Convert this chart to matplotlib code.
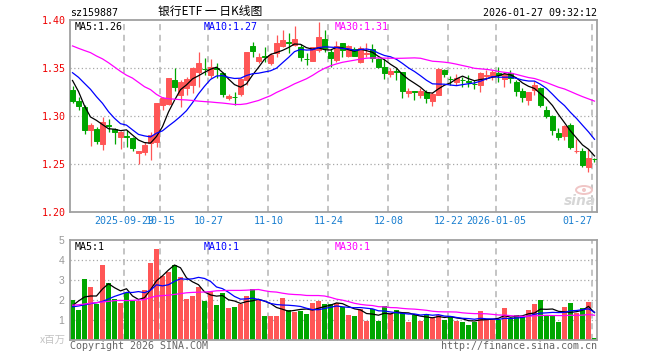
import matplotlib
matplotlib.use('Agg')
import matplotlib.pyplot as plt
from matplotlib.patches import Ellipse
import numpy as np

# ---------------- data ----------------
tick_idx = [9, 15, 23, 33, 43, 53, 63, 71, 87]
tick_labels = ['2025-09-29', '10-15', '10-27', '11-10', '11-24', '12-08', '12-22', '2026-01-05', '01-27']

opens = [1.3271, 1.3156, 1.3097, 1.2854, 1.2865, 1.2705, 1.2903, 1.2865, 1.2785, 1.2792,
         1.2767, 1.2615, 1.2628, 1.2716, 1.2733, 1.3115, 1.3125, 1.3375, 1.3220, 1.3288,
         1.3323, 1.3462, 1.3493, 1.3427, 1.3500, 1.3451, 1.3184, 1.3198, 1.3229, 1.3375,
         1.3729, 1.3576, 1.3622, 1.3549, 1.3660, 1.3729, 1.3767, 1.3740, 1.3722, 1.3594,
         1.3576, 1.3688, 1.3799, 1.3670, 1.3583, 1.3757, 1.3625, 1.3694, 1.3566, 1.3650,
         1.3694, 1.3590, 1.3514, 1.3438, 1.3465, 1.3462, 1.3243, 1.3257, 1.3219, 1.3253,
         1.3160, 1.3219, 1.3479, 1.3389, 1.3358, 1.3378, 1.3361, 1.3333, 1.3323, 1.3420,
         1.3410, 1.3451, 1.3382, 1.3451, 1.3358, 1.3264, 1.3167, 1.3271, 1.3288, 1.3063,
         1.3000, 1.2819, 1.2792, 1.2906, 1.2632, 1.2639, 1.2472, 1.2552]
highs = [1.3316, 1.3194, 1.3115, 1.2924, 1.2889, 1.2993, 1.2972, 1.2878, 1.2844, 1.2854,
         1.2785, 1.2632, 1.2726, 1.2836, 1.3139, 1.3201, 1.3399, 1.3500, 1.3380, 1.3403,
         1.3514, 1.3670, 1.3601, 1.3590, 1.3556, 1.3462, 1.3229, 1.3253, 1.3392, 1.3670,
         1.3774, 1.3660, 1.3722, 1.3653, 1.3844, 1.3896, 1.3868, 1.3938, 1.3750, 1.3653,
         1.3722, 1.3983, 1.3896, 1.3694, 1.3785, 1.3764, 1.3740, 1.3722, 1.3729, 1.3757,
         1.3750, 1.3601, 1.3590, 1.3497, 1.3497, 1.3462, 1.3288, 1.3264, 1.3288, 1.3271,
         1.3253, 1.3497, 1.3486, 1.3417, 1.3438, 1.3410, 1.3427, 1.3375, 1.3462, 1.3479,
         1.3479, 1.3514, 1.3451, 1.3479, 1.3375, 1.3288, 1.3253, 1.3368, 1.3306, 1.3104,
         1.3010, 1.2872, 1.2906, 1.2931, 1.2757, 1.2663, 1.2653, 1.2559]
lows = [1.3132, 1.3063, 1.2813, 1.2691, 1.2705, 1.2646, 1.2830, 1.2705, 1.2656, 1.2681,
        1.2635, 1.2500, 1.2594, 1.2542, 1.2681, 1.3063, 1.3115, 1.3260, 1.3097, 1.3219,
        1.3236, 1.3306, 1.3427, 1.3400, 1.3392, 1.3194, 1.3167, 1.3115, 1.3208, 1.3323,
        1.3611, 1.3549, 1.3566, 1.3531, 1.3618, 1.3722, 1.3653, 1.3729, 1.3576, 1.3531,
        1.3576, 1.3670, 1.3670, 1.3514, 1.3566, 1.3618, 1.3611, 1.3625, 1.3549, 1.3611,
        1.3566, 1.3497, 1.3382, 1.3410, 1.3375, 1.3184, 1.3201, 1.3163, 1.3184, 1.3132,
        1.3104, 1.3219, 1.3403, 1.3323, 1.3323, 1.3306, 1.3306, 1.3278, 1.3253, 1.3375,
        1.3375, 1.3358, 1.3306, 1.3340, 1.3208, 1.3149, 1.3115, 1.3219, 1.3097, 1.2976,
        1.2802, 1.2750, 1.2750, 1.2653, 1.2618, 1.2465, 1.2420, 1.2524]
closes = [1.3160, 1.3108, 1.2854, 1.2906, 1.2743, 1.2941, 1.2892, 1.2830, 1.2830, 1.2785,
          1.2670, 1.2632, 1.2698, 1.2802, 1.3132, 1.3184, 1.3395, 1.3306, 1.3355, 1.3382,
          1.3497, 1.3556, 1.3486, 1.3514, 1.3490, 1.3229, 1.3208, 1.3194, 1.3382, 1.3663,
          1.3681, 1.3611, 1.3615, 1.3635, 1.3764, 1.3792, 1.3760, 1.3799, 1.3618, 1.3590,
          1.3715, 1.3826, 1.3705, 1.3601, 1.3729, 1.3688, 1.3729, 1.3625, 1.3705, 1.3656,
          1.3601, 1.3514, 1.3451, 1.3472, 1.3458, 1.3264, 1.3264, 1.3250, 1.3264, 1.3184,
          1.3229, 1.3490, 1.3438, 1.3385, 1.3392, 1.3372, 1.3358, 1.3330, 1.3451, 1.3427,
          1.3460, 1.3427, 1.3438, 1.3392, 1.3264, 1.3201, 1.3253, 1.3323, 1.3115, 1.3000,
          1.2854, 1.2785, 1.2899, 1.2681, 1.2639, 1.2490, 1.2559, 1.2549]
volumes = [2.0, 1.5, 3.05, 2.65, 1.8, 3.75, 2.83, 2.05, 1.85, 2.33,
           1.95, 1.95, 2.5, 3.85, 4.55, 3.2, 3.4, 3.75, 3.15, 2.05,
           2.2, 2.67, 1.95, 2.4, 1.75, 2.35, 1.6, 1.65, 1.8, 2.2,
           2.55, 1.98, 1.2, 1.2, 1.2, 2.1, 1.5, 1.4, 1.45, 1.3,
           1.85, 1.95, 1.8, 1.8, 1.87, 1.67, 1.25, 1.2, 1.53, 0.97,
           1.53, 0.97, 1.7, 1.33, 1.5, 1.33, 0.92, 1.25, 0.97, 1.28,
           1.13, 1.25, 1.0, 1.17, 0.97, 0.92, 0.77, 0.92, 1.45, 1.03,
           1.03, 1.0, 1.6, 1.03, 1.25, 1.17, 1.5, 1.8, 2.0, 1.2,
           1.25, 0.92, 1.67, 1.87, 1.37, 1.6, 1.9, 0.1]

# moving-average values at the start of the window
ma5_head = [1.3370, 1.3255, 1.3105, 1.2990]
ma10_head = [1.3451, 1.3403, 1.3340, 1.3278, 1.3201, 1.3132, 1.3045, 1.2976, 1.2920]
ma30_head = [1.3730, 1.3705, 1.3682, 1.3660, 1.3625, 1.3595, 1.3555, 1.3510, 1.3465, 1.3425,
             1.3395, 1.3350, 1.3305, 1.3275, 1.3225, 1.3190, 1.3180, 1.3175, 1.3170, 1.3167,
             1.3162, 1.3155, 1.3150, 1.3146, 1.3140, 1.3135, 1.3128, 1.3120, 1.3120]
vma5_head = [1.72, 1.95, 2.15, 2.20]
vma10_head = [1.66, 1.70, 1.76, 1.82, 1.86, 1.93, 2.05, 2.18, 2.28]
vma30_head = [1.74, 1.76, 1.80, 1.84, 1.87, 1.90, 1.93, 1.97, 1.98, 1.97,
              1.98, 2.00, 2.02, 2.12, 2.20, 2.22, 2.24, 2.28, 2.32, 2.36,
              2.38, 2.39, 2.40, 2.42, 2.46, 2.47, 2.48, 2.48, 2.48]

price_ticks = [1.20, 1.25, 1.30, 1.35, 1.40]
vol_ticks = [1, 2, 3, 4, 5]


def moving(vals, n, head):
    out = list(head)
    for i in range(n - 1, len(vals)):
        out.append(float(np.mean(vals[i - n + 1:i + 1])))
    return np.array(out)


# ---------------- figure ----------------
W, H = 660, 360
fig = plt.figure(figsize=(W / 100, H / 100), dpi=100)
fig.patch.set_facecolor('white')


def fx(px):
    return px / W


def fy(py):
    return 1 - py / H


MONO = 'DejaVu Sans Mono'
RED = '#ff5656'
GREEN = '#00a600'
GRID = '#a8a8a8'
FRAME = '#a0a0a0'

n = len(closes)
x = np.arange(n)
o = np.array(opens); c = np.array(closes); hi = np.array(highs); lo = np.array(lows)
up = c >= o
cols = [RED if u else GREEN for u in up]

xlim = (-0.4167, 87.4167)
grid_x = [t - 0.35 for t in tick_idx]

ax = fig.add_axes([fx(70), fy(212), 527 / W, 192 / H])
axv = fig.add_axes([fx(70), fy(340), 527 / W, 100 / H])

# ---- price panel ----
ax.set_xlim(*xlim)
ax.set_ylim(1.20, 1.40)
for gy in price_ticks[1:-1]:
    ax.axhline(gy, color=GRID, lw=0.9, ls=(0, (1, 2)), zorder=0)
for gx in grid_x:
    ax.axvline(gx, color='#b4b4b4', lw=1.1, ls=(0, (4, 3)), zorder=0)

ax.vlines(x, lo, hi, colors=cols, lw=0.9, zorder=2)
bottoms = np.minimum(o, c)
heights = np.abs(c - o)
ax.bar(x, heights, width=0.78, bottom=bottoms, color=cols, edgecolor=cols, lw=0.7, zorder=3)

ma5 = moving(closes, 5, ma5_head)
ma10 = moving(closes, 10, ma10_head)
ma30 = moving(closes, 30, ma30_head)
ax.plot(x, ma5, color='black', lw=0.9, zorder=4)
ax.plot(x, ma10, color='#0000ff', lw=0.9, zorder=4)
ax.plot(x, ma30, color='#ff00ff', lw=0.9, zorder=4)

ax.set_yticks(price_ticks)
ax.set_yticklabels(['%.2f' % v for v in price_ticks], color='#ee0000', fontfamily=MONO, fontsize=7.2)
ax.set_xticks(grid_x)
ax.set_xticklabels(tick_labels, color='#1a7fd0', fontfamily=MONO, fontsize=7.2)
ax.xaxis.get_majorticklabels()[-1].set_horizontalalignment('right')
ax.tick_params(axis='both', length=0)
ax.tick_params(axis='y', pad=3)
ax.tick_params(axis='x', pad=3)
for s in ax.spines.values():
    s.set_color(FRAME)
    s.set_linewidth(1.3)

# ---- volume panel ----
axv.set_xlim(*xlim)
axv.set_ylim(0, 5)
for gy in vol_ticks[:-1]:
    axv.axhline(gy, color=GRID, lw=0.9, ls=(0, (1, 2)), zorder=0)
for gx in grid_x:
    axv.axvline(gx, color='#b4b4b4', lw=1.1, ls=(0, (4, 3)), zorder=0)
axv.bar(x, volumes, width=0.83, color=cols, lw=0, zorder=2)
vma5 = moving(volumes, 5, vma5_head)
vma10 = moving(volumes, 10, vma10_head)
vma30 = moving(volumes, 30, vma30_head)
axv.plot(x, vma5, color='black', lw=0.9, zorder=4)
axv.plot(x, vma10, color='#0000ff', lw=0.9, zorder=4)
axv.plot(x, vma30, color='#ff00ff', lw=0.9, zorder=4)
axv.set_yticks(vol_ticks)
axv.set_yticklabels([str(v) for v in vol_ticks], color='#999999', fontfamily='Liberation Sans', fontsize=7.5)
axv.set_xticks([])
axv.tick_params(axis='both', length=0, pad=4)
for s in axv.spines.values():
    s.set_color(FRAME)
    s.set_linewidth(1.3)

# ---- texts ----
cjk = ['Noto Sans CJK SC', 'DejaVu Sans']
fig.text(fx(70), fy(13), 'sz159887', fontfamily=MONO, fontsize=7.2, va='center', ha='left', color='black')
fig.text(fx(210), fy(11), '银行ETF 一 日K线图', fontfamily=cjk, fontsize=8.5, va='center', ha='center', color='black')
fig.text(fx(597), fy(13), '2026-01-27 09:32:12', fontfamily=MONO, fontsize=7.2, va='center', ha='right', color='black')

fig.text(fx(75), fy(26.5), 'MA5:1.26', fontfamily=MONO, fontsize=7.2, va='center', ha='left', color='black')
fig.text(fx(204), fy(26.5), 'MA10:1.27', fontfamily=MONO, fontsize=7.2, va='center', ha='left', color='#0000ff')
fig.text(fx(335), fy(26.5), 'MA30:1.31', fontfamily=MONO, fontsize=7.2, va='center', ha='left', color='#ff00ff')

fig.text(fx(75), fy(247), 'MA5:1', fontfamily=MONO, fontsize=7.2, va='center', ha='left', color='black')
fig.text(fx(204), fy(247), 'MA10:1', fontfamily=MONO, fontsize=7.2, va='center', ha='left', color='#0000ff')
fig.text(fx(335), fy(247), 'MA30:1', fontfamily=MONO, fontsize=7.2, va='center', ha='left', color='#ff00ff')

fig.text(fx(66), fy(340), 'x百万', fontfamily=cjk, fontsize=7.5, va='center', ha='right', color='#c4c4c4')
fig.text(fx(70), fy(346), 'Copyright 2026 SINA.COM', fontfamily=MONO, fontsize=7.2, va='center', ha='left', color='#666666')
fig.text(fx(597), fy(346), 'http://finance.sina.com.cn', fontfamily=MONO, fontsize=7.2, va='center', ha='right', color='#666666')

# sina watermark (eye + word)
fig.patches.append(Ellipse((fx(584), fy(190)), 16 / W, 8 / H, transform=fig.transFigure,
                           facecolor='none', edgecolor='#f0c6c6', lw=1.4, zorder=1))
fig.patches.append(Ellipse((fx(584), fy(190)), 4 / W, 4 / H, transform=fig.transFigure,
                           facecolor='#f0c6c6', edgecolor='none', zorder=1))
fig.text(fx(580), fy(201), 'sina', fontfamily='DejaVu Sans', fontsize=10, fontweight='bold', style='italic',
         va='center', ha='center', color='#d6d6d6', zorder=1)

fig.savefig('out.png', dpi=100, facecolor='white')
